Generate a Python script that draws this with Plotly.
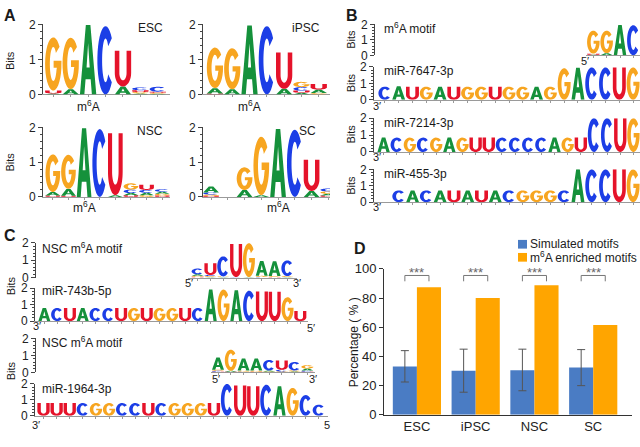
import numpy as np
import plotly.graph_objects as go

W, H = 640, 447
FONT = "Liberation Sans, Arial, Helvetica, sans-serif"

# ------------------------------------------------------------------ data
# Panel A: per-position letter heights (bits)
ESC_MOTIF = [
    {"A": 0.03, "U": 0.08, "G": 1.52},
    {"A": 0.15, "G": 1.47},
    {"A": 1.98},
    {"C": 1.95},
    {"A": 0.23, "U": 1.02},
    {"A": 0.03, "G": 0.04, "U": 0.05, "C": 0.08},
    {"A": 0.02, "G": 0.03, "U": 0.03, "C": 0.14},
]
IPSC_MOTIF = [
    {"U": 0.03, "A": 0.15, "G": 1.16},
    {"A": 0.15, "G": 1.17},
    {"A": 1.97},
    {"C": 1.95},
    {"A": 0.16, "U": 1.04},
    {"A": 0.05, "U": 0.06, "C": 0.10, "G": 0.15},
    {"G": 0.04, "A": 0.10, "U": 0.16},
]
NSC_MOTIF = [
    {"U": 0.04, "A": 0.10, "G": 1.08},
    {"U": 0.03, "A": 0.20, "G": 0.98},
    {"A": 1.97},
    {"C": 1.95},
    {"A": 0.05, "U": 1.78},
    {"U": 0.05, "A": 0.06, "C": 0.10, "G": 0.18},
    {"G": 0.05, "A": 0.07, "C": 0.08, "U": 0.15},
    {"U": 0.04, "G": 0.05, "A": 0.06, "C": 0.07},
]
SC_MOTIF = [
    {"U": 0.03, "G": 0.04, "C": 0.06, "A": 0.17},
    {},
    {"A": 0.20, "G": 0.65},
    {"A": 0.05, "G": 1.68},
    {"A": 1.95},
    {"C": 1.93},
    {"A": 0.17, "U": 0.90},
    {"U": 0.04, "A": 0.05, "G": 0.07, "C": 0.08},
]
M6A_POSITION = [3, 3, 3, 5]
CELL_NAMES = ["ESC", "iPSC", "NSC", "SC"]

# Panel B
B_M6A_MOTIF = [
    {"A": 0.03, "U": 0.08, "G": 1.48},
    {"A": 0.14, "G": 1.45},
    {"A": 1.96},
    {"C": 1.95},
]
MIR_7647_SEQ = "CAUGAUGGUGGAGGACCUG"
MIR_7647_BITS = [0.80, 0.82, 0.80, 0.80, 0.80, 0.80, 0.80, 0.80, 0.80, 0.80,
                 0.80, 0.80, 0.80, 1.92, 1.95, 1.97, 1.97, 1.97, 1.97]
MIR_7214_SEQ = "ACGCGAGUUCCCCAGUCCUG"
MIR_7214_BITS = [0.85, 0.85, 0.85, 0.85, 0.85, 0.85, 0.85, 0.85, 0.85, 0.85,
                 0.85, 0.85, 0.85, 0.85, 0.85, 0.85, 2.00, 2.00, 2.00, 2.00]
MIR_455_SEQ = "CACAUAUACGGGCACCUG"
MIR_455_BITS = [0.72, 0.72, 0.72, 0.72, 0.72, 0.72, 0.72, 0.72, 0.72, 0.72,
                0.72, 0.72, 0.72, 2.00, 2.00, 2.00, 2.00, 2.00]

# Panel C
NSC_MOTIF_1 = [
    {"U": 0.05, "G": 0.06, "A": 0.08, "C": 0.33},
    {"A": 0.04, "G": 0.05, "C": 0.06, "U": 0.68},
    {"A": 0.03, "G": 0.04, "C": 1.15},
    {"C": 0.03, "U": 1.90},
    {"A": 0.03, "G": 1.95},
    {"C": 0.04, "G": 0.06, "A": 0.85},
    {"U": 0.04, "G": 0.05, "A": 0.85},
    {"A": 0.04, "G": 0.05, "C": 0.90},
]
MIR_743B_SEQ = "ACUACCUGUGGUCAGACUUGU"
MIR_743B_BITS = [0.80, 0.80, 0.80, 0.80, 0.80, 0.80, 0.80, 0.80, 0.80, 0.80,
                 0.80, 0.80, 0.80, 1.92, 1.92, 1.88, 1.85, 1.80, 1.78, 1.45, 0.62]
NSC_MOTIF_2 = [
    {"U": 0.04, "C": 0.05, "G": 0.06, "A": 0.72},
    {"U": 0.03, "A": 0.06, "G": 1.25},
    {"C": 0.04, "G": 0.06, "A": 0.72},
    {"U": 0.04, "G": 0.06, "A": 0.72},
    {"G": 0.05, "A": 0.06, "C": 0.62},
    {"G": 0.05, "C": 0.10, "U": 0.55},
    {"A": 0.05, "G": 0.06, "C": 0.50},
    {"U": 0.04, "C": 0.06, "A": 0.12, "G": 0.20},
]
MIR_1964_SEQ = "UUUCGGCCUCGGGUCUUCAGCC"
MIR_1964_BITS = [0.80, 0.80, 0.80, 0.80, 0.80, 0.80, 0.80, 0.80, 0.80, 0.80, 0.80,
                 0.80, 0.80, 0.80, 2.00, 1.90, 1.85, 1.95, 1.85, 1.75, 1.30, 0.70]

# Panel D
CATEGORIES = ["ESC", "iPSC", "NSC", "SC"]
SIMULATED = [33.2, 30.2, 30.6, 32.4]
SIM_ERR_PLUS = [10.8, 14.8, 14.4, 12.3]
SIM_ERR_MINUS = [10.7, 14.7, 14.1, 12.4]
ENRICHED = [87.5, 80.0, 88.8, 61.5]
SIGNIF = ["***", "***", "***", "***"]
SERIES_NAMES = ["Simulated motifs", "m<sup>6</sup>A enriched motifs"]
SERIES_COLORS = ["#4A7CC4", "#FFA500"]

# ------------------------------------------------------------------ glyphs
COLORS = {"A": "#15913B", "C": "#1C3EE6", "G": "#F7A520", "U": "#E5132A"}


def ell(cx, cy, rx, ry, a0, a1, n=30):
    t = np.radians(np.linspace(a0, a1, n))
    return [(cx + rx * np.cos(a), cy + ry * np.sin(a)) for a in t]


GLYPHS = {
    "A": [[(0, 0), (0.36, 1), (0.64, 1), (1, 0), (0.73, 0), (0.655, 0.22),
           (0.345, 0.22), (0.27, 0)],
          [(0.405, 0.39), (0.595, 0.39), (0.5, 0.74)]],
    "C": [ell(0.5, 0.5, 0.5, 0.5, 40, 320) + ell(0.5, 0.5, 0.21, 0.32, 320, 40)],
    "G": [ell(0.5, 0.5, 0.5, 0.5, 40, 350)
          + [(1.0, 0.56), (0.52, 0.56), (0.52, 0.43), (0.72, 0.43)]
          + ell(0.5, 0.5, 0.21, 0.32, 340, 40)],
    "U": [[(0, 1)] + ell(0.5, 0.38, 0.5, 0.38, 180, 360) + [(1, 1), (0.72, 1)]
          + ell(0.5, 0.38, 0.22, 0.21, 360, 180) + [(0.28, 1)]],
}


def letter_path(ch, xc, y0, h, w=0.94):
    x0 = xc - w / 2
    parts = []
    for poly in GLYPHS[ch]:
        pts = [f"{x0 + u * w:.4f},{y0 + v * h:.4f}" for u, v in poly]
        parts.append("M" + "L".join(pts) + "Z")
    return "".join(parts)


def seq_columns(seq, bits):
    return [{c: b} for c, b in zip(seq, bits)]


def px(x):
    return x / W


def py(y):
    return 1 - y / H


fig = go.Figure()
shapes = []
annotations = []
layout = {}


def ref(n, axis):
    return axis if n == 1 else f"{axis}{n}"


def key(n, axis):
    return f"{axis}axis" if n == 1 else f"{axis}axis{n}"


# geometry: (columns, x_left, x_right, y_top, y_bottom, xrange, free_y_position)
LOGOS = [
    (ESC_MOTIF, 43, 170, 18, 90.5, [0.41, 7.7], None),
    (IPSC_MOTIF, 203, 330, 18, 90.5, [0.31, 7.65], None),
    (NSC_MOTIF, 43, 170, 124.5, 196.5, [0.37, 8.5], None),
    (SC_MOTIF, 203, 330, 124.5, 196.5, [0.52, 8.1], None),
    (B_M6A_MOTIF, 586, 640, 18, 50, [0.45, 4.5], 374),
    (seq_columns(MIR_7647_SEQ, MIR_7647_BITS), 374, 640, 62, 96, [0.21, 19.5], None),
    (seq_columns(MIR_7214_SEQ, MIR_7214_BITS), 374, 640, 115, 150, [0.27, 20.5], None),
    (seq_columns(MIR_455_SEQ, MIR_455_BITS), 374, 640, 168, 202, [-0.8, 18.5], None),
    (NSC_MOTIF_1, 188, 297, 244, 280, [0.25, 8.75], 35),
    (seq_columns(MIR_743B_SEQ, MIR_743B_BITS), 35, 308, 291, 325, [0.27, 21.6], None),
    (NSC_MOTIF_2, 211, 315, 343, 378, [0.45, 8.6], 35),
    (seq_columns(MIR_1964_SEQ, MIR_1964_BITS), 35, 328, 390, 423, [0.35, 22.7], None),
]

for i, (cols, xl, xr, yt, yb, xr_range, free) in enumerate(LOGOS):
    n = i + 1
    positions = list(range(1, len(cols) + 1))
    totals = [sum(c.values()) for c in cols]
    fig.add_trace(go.Scatter(x=positions, y=totals, mode="markers",
                             marker=dict(opacity=0), hoverinfo="skip",
                             showlegend=False, xaxis=ref(n, "x"), yaxis=ref(n, "y")))
    layout[key(n, "x")] = dict(
        domain=[px(xl), px(xr)], range=xr_range, anchor=ref(n, "y"),
        showline=True, linecolor="#9a9a9a", linewidth=1, ticks="outside",
        ticklen=2, tickcolor="#9a9a9a", tickvals=positions, showticklabels=False,
        showgrid=False, zeroline=False, fixedrange=True)
    yax = dict(
        domain=[py(yb), py(yt)], range=[0, 2.0],
        showline=True, linecolor="#444", linewidth=1, ticks="outside", ticklen=4,
        tickcolor="#444", tick0=0, dtick=1,
        tickfont=dict(size=12, color="#222", family=FONT),
        minor=dict(dtick=0.2, ticklen=2, ticks="outside", tickcolor="#444"),
        showgrid=False, zeroline=False, fixedrange=True)
    if free is None:
        yax["anchor"] = ref(n, "x")
    else:
        yax["anchor"] = "free"
        yax["position"] = px(free)
    layout[key(n, "y")] = yax
    for p, col in zip(positions, cols):
        base = 0.0
        for ch, h in sorted(col.items(), key=lambda kv: kv[1]):
            if h > 0.015:
                shapes.append(dict(type="path", path=letter_path(ch, p, base, h),
                                   xref=ref(n, "x"), yref=ref(n, "y"),
                                   fillcolor=COLORS[ch], line=dict(width=0),
                                   fillrule="evenodd", layer="above"))
            base += h


def ann(text, x, y, size=12, xanchor="center", yanchor="middle", bold=False,
        color="#1a1a1a", angle=0):
    annotations.append(dict(
        text=f"<b>{text}</b>" if bold else text, x=px(x), y=py(y),
        xref="paper", yref="paper", xanchor=xanchor, yanchor=yanchor,
        showarrow=False, textangle=angle,
        font=dict(size=size, color=color, family=FONT)))


# panel letters
ann("A", 10, 9, 16, bold=True)
ann("B", 352, 9, 16, bold=True)
ann("C", 10, 236, 16, bold=True)
ann("D", 360, 250, 16, bold=True)

# panel A texts
for n, name, xr_px, ytxt, ym in [(1, "ESC", 165, 22, 102), (2, "iPSC", 322, 22, 102),
                                 (3, "NSC", 165, 128, 207), (4, "SC", 318, 128, 207)]:
    ann(name, xr_px, ytxt, 12, xanchor="right")
    annotations.append(dict(text="m<sup>6</sup>A", x=M6A_POSITION[n - 1], xref=ref(n, "x"),
                            y=py(ym), yref="paper", showarrow=False,
                            xanchor="center", yanchor="middle",
                            font=dict(size=12, color="#1a1a1a", family=FONT)))
ann("Bits", 10, 56, 11, angle=-90)
ann("Bits", 10, 161, 11, angle=-90)

# panel B texts
for yb in [34, 79, 132, 185]:
    ann("Bits", 351, yb, 11, angle=-90)
ann("m<sup>6</sup>A motif", 382, 22, 12, xanchor="left")
ann("miR-7647-3p", 382, 66, 12, xanchor="left")
ann("miR-7214-3p", 382, 120, 12, xanchor="left")
ann("miR-455-3p", 382, 173, 12, xanchor="left")
ann("5′", 585, 56, 11)
ann("3′", 377, 102, 11)
ann("3′", 377, 155, 11)
ann("3′", 377, 207, 11)

# panel C texts
ann("Bits", 11, 289, 11, angle=-90)
ann("Bits", 11, 377, 11, angle=-90)
ann("NSC m<sup>6</sup>A motif", 40, 249, 12, xanchor="left")
ann("miR-743b-5p", 40, 294, 12, xanchor="left")
ann("NSC m<sup>6</sup>A motif", 40, 347, 12, xanchor="left")
ann("miR-1964-3p", 40, 395, 12, xanchor="left")
ann("5′", 189, 286, 11)
ann("3′", 297, 286, 11)
ann("3′", 37, 330, 11)
ann("5′", 311, 332, 11)
ann("5′", 216, 385, 11)
ann("3′", 313, 385, 11)
ann("3′", 36, 433, 11)
ann("5", 327, 433, 11)

# ------------------------------------------------------------------ panel D
nD = 13
xpos = list(range(len(CATEGORIES)))
BW = 0.41
fig.add_trace(go.Bar(
    x=[x - BW / 2 for x in xpos], y=SIMULATED, width=BW, name=SERIES_NAMES[0],
    marker=dict(color=SERIES_COLORS[0], line=dict(width=0)), showlegend=False,
    error_y=dict(type="data", symmetric=False, array=SIM_ERR_PLUS,
                 arrayminus=SIM_ERR_MINUS, color="#555", thickness=1, width=4),
    xaxis=ref(nD, "x"), yaxis=ref(nD, "y")))
fig.add_trace(go.Bar(
    x=[x + BW / 2 for x in xpos], y=ENRICHED, width=BW, name=SERIES_NAMES[1],
    marker=dict(color=SERIES_COLORS[1], line=dict(width=0)), showlegend=False,
    xaxis=ref(nD, "x"), yaxis=ref(nD, "y")))
for x, s in zip(xpos, SIGNIF):
    fig.add_trace(go.Scatter(
        x=[x - BW / 2, x - BW / 2, x + BW / 2, x + BW / 2], y=[91.5, 95.5, 95.5, 91.5],
        mode="lines", line=dict(color="#777", width=1), hoverinfo="skip",
        showlegend=False, xaxis=ref(nD, "x"), yaxis=ref(nD, "y")))
    annotations.append(dict(text=s, x=x, y=97.3, xref=ref(nD, "x"), yref=ref(nD, "y"),
                            showarrow=False, xanchor="center", yanchor="middle",
                            font=dict(size=13, color="#666", family=FONT)))

# legend (swatch + label)
for k, (name, color) in enumerate(zip(SERIES_NAMES, SERIES_COLORS)):
    yc = 245.5 + 13.5 * k
    shapes.append(dict(type="rect", xref="paper", yref="paper",
                       x0=px(518), x1=px(527), y0=py(yc + 4.5), y1=py(yc - 4.5),
                       fillcolor=color, line=dict(width=0)))
    ann(name, 528, yc, 12, xanchor="left", color="#222")

layout[key(nD, "x")] = dict(
    domain=[px(384), px(632)], range=[-0.56, 3.66], anchor=ref(nD, "y"),
    tickvals=xpos, ticktext=CATEGORIES, ticks="", showline=True, linecolor="#333",
    tickfont=dict(size=13, color="#222", family=FONT), showgrid=False,
    zeroline=False, fixedrange=True)
layout[key(nD, "y")] = dict(
    domain=[py(422), py(271)], range=[0, 100], anchor=ref(nD, "x"), dtick=20,
    ticks="outside", ticklen=4, showline=True, linecolor="#333", tickcolor="#333",
    tickfont=dict(size=13, color="#222", family=FONT), showgrid=False,
    zeroline=False, fixedrange=True)
ann("Percentage ( % )", 354, 347, 12, angle=-90)

fig.update_layout(
    width=W, height=H, margin=dict(l=0, r=0, t=0, b=0),
    paper_bgcolor="white", plot_bgcolor="white",
    shapes=shapes, annotations=annotations, showlegend=False,
    font=dict(family=FONT),
    **layout)

fig.write_html("out.html", config={"displayModeBar": False},
               post_script="document.body.style.margin='0px';document.body.style.overflow='hidden';")
